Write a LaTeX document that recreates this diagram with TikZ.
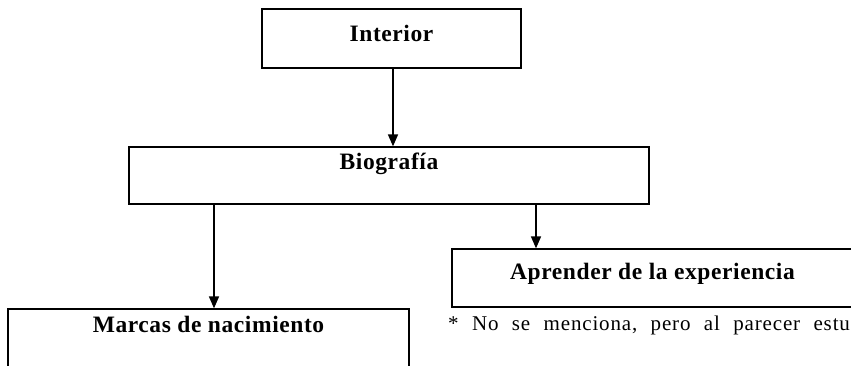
\documentclass[tikz,border=0pt]{standalone}
\usepackage{fontspec}
\setmainfont{Liberation Serif}
\newfontfamily\boxfont{Liberation Serif}[LetterSpace=2.5]
\newfontfamily\notefont{Liberation Serif}[LetterSpace=4,WordSpace=2.2]
\usetikzlibrary{arrows.meta}
\begin{document}
\begin{tikzpicture}[x=1pt,y=-1pt,
  box/.style={draw, line width=1.3pt, inner sep=0pt, anchor=base,
    font=\boxfont\bfseries\fontsize{23.5}{26}\selectfont},
  arr/.style={line width=1.6pt, -{Triangle[length=12pt,width=10pt]}}]
\useasboundingbox (0,0) rectangle (851,365);
\clip (0,0) rectangle (851,365);
\node[box, minimum width=259pt, text height=32.7pt, text depth=26.3pt] (interior) at (391.5,41.7) {Interior};
\node[box, minimum width=520pt, text height=22pt, text depth=35pt] (biog) at (389,169) {Biografía};
\node[box, minimum width=401pt, text height=30pt, text depth=28pt] (aprender) at (652.5,279) {Aprender de la experiencia};
\node[box, minimum width=401pt, text height=23pt, text depth=50pt] (marcas) at (208.5,332) {Marcas de nacimiento};
\node[anchor=base west, inner sep=0pt, font=\notefont\fontsize{21}{23}\selectfont] (nota) at (448,330) {* No se menciona, pero al parecer estu};
\coordinate (xa) at (393,0);
\coordinate (xb) at (214,0);
\coordinate (xc) at (536,0);
\draw[arr] (xa |- interior.south) -- (xa |- biog.north);
\draw[arr] (xb |- biog.south) -- (xb |- marcas.north);
\draw[arr] (xc |- biog.south) -- (xc |- aprender.north);
\end{tikzpicture}
\end{document}
